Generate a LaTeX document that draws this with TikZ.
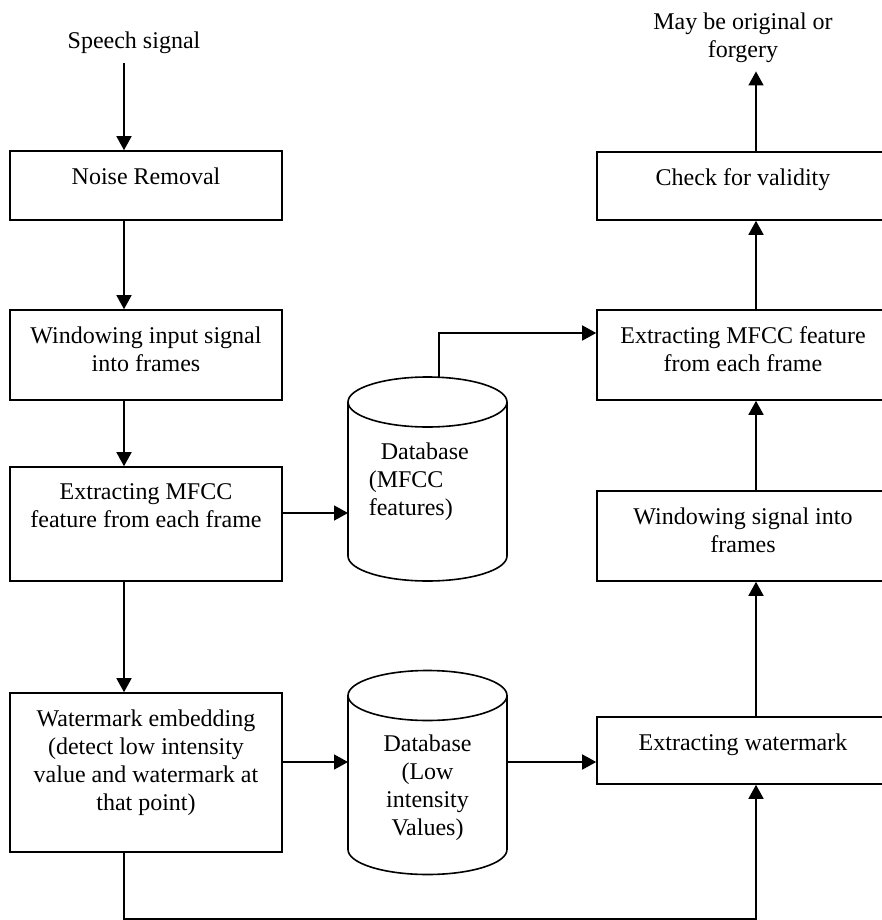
\documentclass[tikz,border=0pt]{standalone}
\usepackage{fontspec}
\setmainfont{Liberation Serif}
\usetikzlibrary{arrows.meta}

\begin{document}
\begin{tikzpicture}[x=0.5pt,y=-0.5pt,line width=0.8pt,font=\fontsize{12}{14}\selectfont,
  arr/.style={-{Triangle[length=7pt,width=7.5pt]}},
  lbox/.style={draw,rectangle,minimum width=136pt,inner sep=0pt},
  rbox/.style={draw,rectangle,minimum width=146pt,inner sep=0pt},
  boxtxt/.style={anchor=north,align=center,inner sep=8.5pt},
  dbbox/.style={rectangle,minimum width=79.5pt,minimum height=102pt,inner sep=0pt,outer sep=0pt},
  dbend/.style={x radius=39.75pt,y radius=12.5pt},
  plain/.style={inner sep=4pt,align=center}]
\useasboundingbox (0,0) rectangle (882,920);
\node[plain,anchor=base] (speech) at (134,49) {Speech signal};
\node[lbox,minimum height=34.5pt,label={[boxtxt]north:Noise Removal}] (noise) at (146,185.5) {};
\node[lbox,minimum height=45pt,label={[boxtxt]north:Windowing input signal\\into frames}] (winin) at (146,355) {};
\node[lbox,minimum height=57pt,label={[boxtxt]north:Extracting MFCC\\feature from each frame}] (mfcc1) at (146,524) {};
\node[lbox,minimum height=79.5pt,label={[boxtxt]north:Watermark embedding\\(detect low intensity\\value and watermark at\\that point)}] (wmemb) at (146,772.5) {};
\node[dbbox,label={[anchor=north west,inner sep=0pt,align=left,xshift=10pt,yshift=-32.5pt]north west:\hspace*{6pt}Database\\(MFCC\\features)}] (db1) at (427.5,479) {};
\node[dbbox,label={[anchor=north,inner sep=0pt,align=center,yshift=-32pt]north:Database\\(Low\\intensity\\Values)}] (db2) at (427.5,772.5) {};
\node[plain,anchor=north] (result) at (743,4) {May be original or\\forgery};
\node[rbox,minimum height=34pt,label={[boxtxt]north:Check for validity}] (check) at (743,186) {};
\node[rbox,minimum height=45pt,label={[boxtxt]north:Extracting MFCC feature\\from each frame}] (mfcc2) at (743,355) {};
\node[rbox,minimum height=45pt,label={[boxtxt]north:Windowing signal into\\frames}] (winsig) at (743,536) {};
\node[rbox,minimum height=33.5pt,label={[boxtxt]north:Extracting watermark}] (wmext) at (743,750.5) {};
\draw ([yshift=-12.5pt]db1.north) ellipse [dbend];
\draw ([yshift=-12.5pt]db1.north west) -- ([yshift=12.5pt]db1.south west) arc [start angle=180,end angle=360,dbend] -- ([yshift=-12.5pt]db1.north east);
\draw ([yshift=-12.5pt]db2.north) ellipse [dbend];
\draw ([yshift=-12.5pt]db2.north west) -- ([yshift=12.5pt]db2.south west) arc [start angle=180,end angle=360,dbend] -- ([yshift=-12.5pt]db2.north east);
\draw[arr] ([xshift=-5pt]speech.south) -- ([xshift=-11pt]noise.north);
\draw[arr] ([xshift=-11pt]noise.south) -- ([xshift=-11pt]winin.north);
\draw[arr] ([xshift=-11pt]winin.south) -- ([xshift=-11pt]mfcc1.north);
\draw[arr] ([xshift=-11pt]mfcc1.south) -- ([xshift=-11pt]wmemb.north);
\draw[arr] ([yshift=5.5pt]mfcc1.east) -- ([yshift=-17pt]db1.west);
\draw[arr] ([xshift=5.75pt]db1.north) |- ([yshift=11pt]mfcc2.west);
\draw[arr] ([yshift=5.25pt]wmemb.east) -- ([yshift=5.25pt]db2.west);
\draw[arr] ([yshift=5.25pt]db2.east) -- ([yshift=-5.75pt]wmext.west);
\draw[arr] ([xshift=-11pt]wmemb.south) -- ++(0,66) -| ([xshift=6.5pt]wmext.south);
\draw[arr] ([xshift=6.5pt]wmext.north) -- ([xshift=6.5pt]winsig.south);
\draw[arr] ([xshift=6.5pt]winsig.north) -- ([xshift=6.5pt]mfcc2.south);
\draw[arr] ([xshift=6.5pt]mfcc2.north) -- ([xshift=6.5pt]check.south);
\draw[arr] ([xshift=6.5pt]check.north) -- ([xshift=6.5pt]result.south);
\end{tikzpicture}
\end{document}
